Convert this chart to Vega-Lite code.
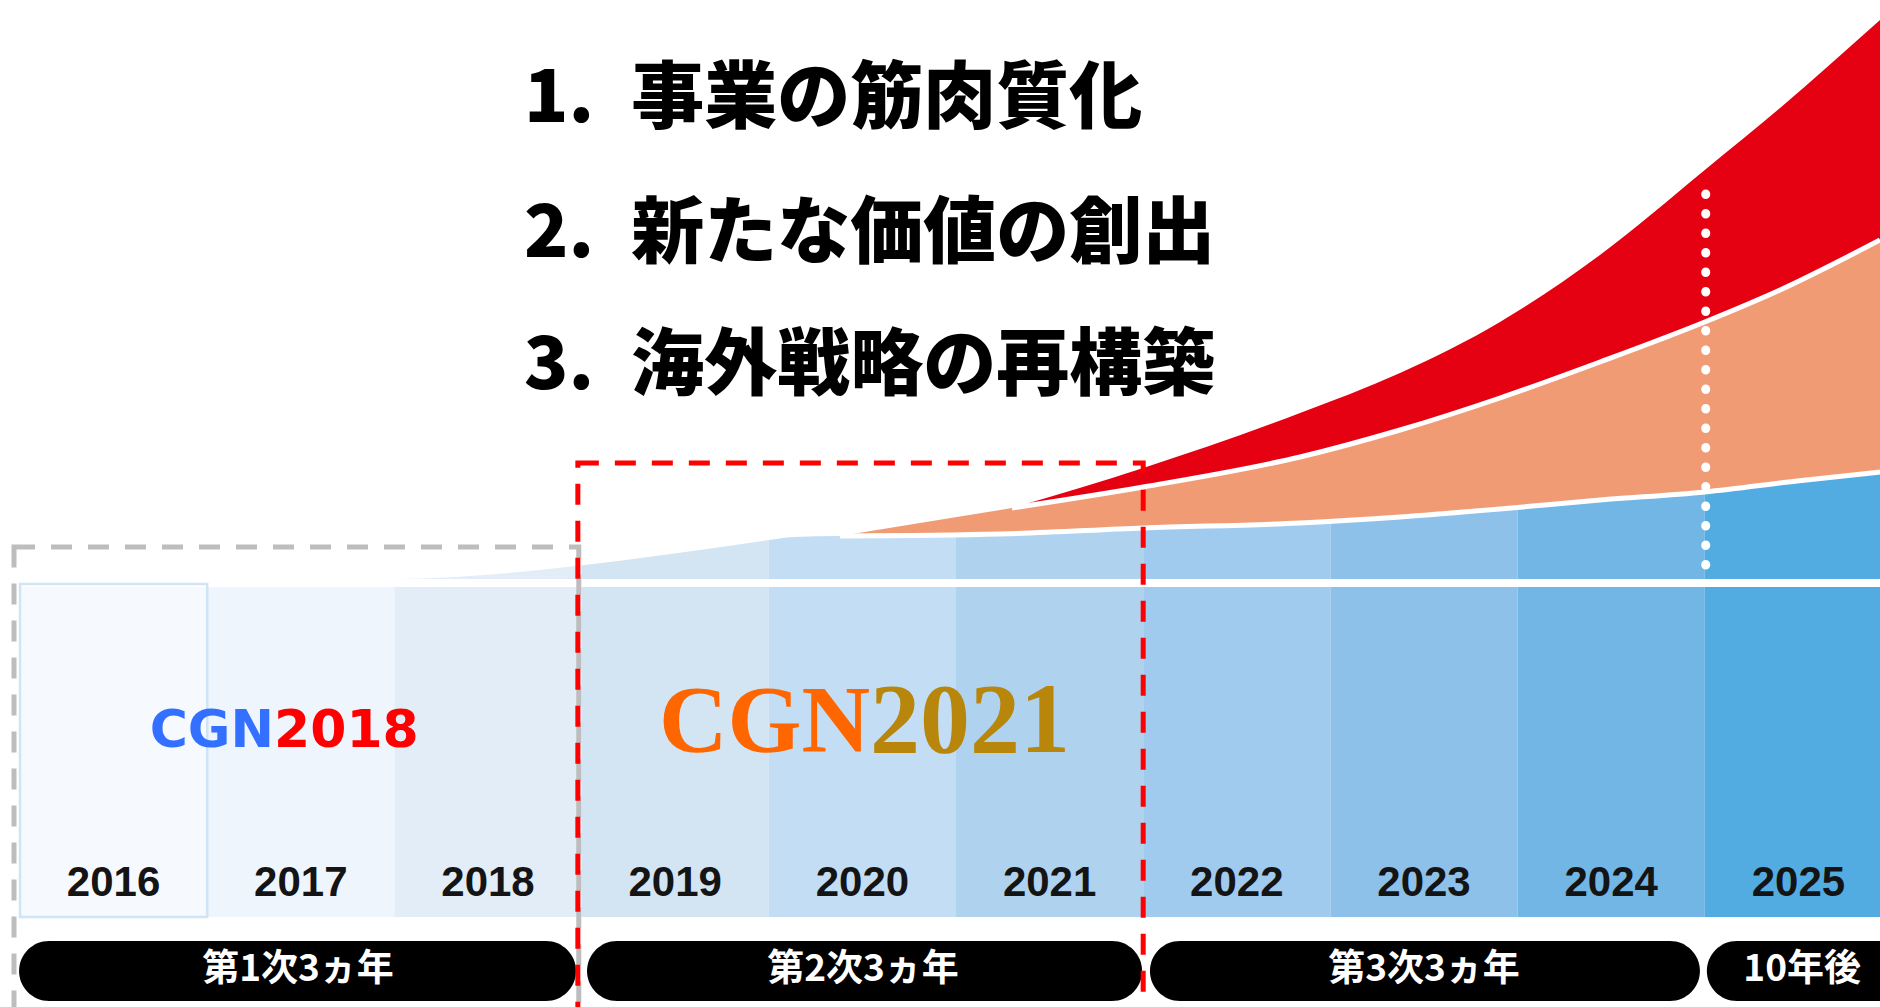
{
  "$schema": "https://vega.github.io/schema/vega-lite/v6.json",
  "width": 1880,
  "height": 1007,
  "autosize": {"type": "fit", "contains": "padding"},
  "padding": 0,
  "background": "white",
  "config": {"view": {"stroke": null}, "axis": {"disable": true}, "legend": {"disable": true}},
  "datasets": {
    "years": [
      {"year": "2016", "start": 2016, "end": 2017, "mid": 2016.5},
      {"year": "2017", "start": 2017, "end": 2018, "mid": 2017.5},
      {"year": "2018", "start": 2018, "end": 2019, "mid": 2018.5},
      {"year": "2019", "start": 2019, "end": 2020, "mid": 2019.5},
      {"year": "2020", "start": 2020, "end": 2021, "mid": 2020.5},
      {"year": "2021", "start": 2021, "end": 2022, "mid": 2021.5},
      {"year": "2022", "start": 2022, "end": 2023, "mid": 2022.5},
      {"year": "2023", "start": 2023, "end": 2024, "mid": 2023.5},
      {"year": "2024", "start": 2024, "end": 2025, "mid": 2024.5},
      {"year": "2025", "start": 2025, "end": 2026, "mid": 2025.5}
    ],
    "blue": [
      {"x": 2015.8932, "top": 426},
      {"x": 2018.0, "top": 428},
      {"x": 2019.632, "top": 457},
      {"x": 2020.0, "top": 467},
      {"x": 2020.129, "top": 470},
      {"x": 2020.38, "top": 471},
      {"x": 2021.235, "top": 473},
      {"x": 2022.0, "top": 479},
      {"x": 2022.838, "top": 484},
      {"x": 2023.639, "top": 494},
      {"x": 2024.44, "top": 507},
      {"x": 2025.0, "top": 515},
      {"x": 2025.936, "top": 535}
    ],
    "orange": [
      {"x": 2020.38, "lo": 471, "hi": 471},
      {"x": 2021.235, "lo": 473, "hi": 497},
      {"x": 2022.0, "lo": 479, "hi": 520},
      {"x": 2022.838, "lo": 484, "hi": 550},
      {"x": 2023.372, "lo": 490, "hi": 577},
      {"x": 2023.906, "lo": 498, "hi": 609},
      {"x": 2024.44, "lo": 507, "hi": 645},
      {"x": 2025.0, "lo": 515, "hi": 685},
      {"x": 2025.493, "lo": 526, "hi": 724},
      {"x": 2025.936, "lo": 535, "hi": 767}
    ],
    "red": [
      {"x": 2021.299, "lo": 499, "hi": 499},
      {"x": 2022.0, "lo": 520, "hi": 539},
      {"x": 2022.838, "lo": 550, "hi": 594},
      {"x": 2023.372, "lo": 577, "hi": 634},
      {"x": 2023.906, "lo": 609, "hi": 685},
      {"x": 2024.44, "lo": 645, "hi": 752},
      {"x": 2025.0, "lo": 685, "hi": 837},
      {"x": 2025.402, "lo": 717, "hi": 899},
      {"x": 2025.936, "lo": 767, "hi": 987}
    ],
    "phases": [
      {"phase": "第1次3ヵ年", "start": 2015.995, "end": 2018.97, "mid": 2017.485},
      {"phase": "第2次3ヵ年", "start": 2019.029, "end": 2021.994, "mid": 2020.503},
      {"phase": "第3次3ヵ年", "start": 2022.036, "end": 2024.974, "mid": 2023.5},
      {"phase": "10年後", "start": 2025.011, "end": 2026.4, "mid": 2025.52}
    ],
    "goals": [
      {"no": "1.", "goal": "事業の筋肉質化"},
      {"no": "2.", "goal": "新たな価値の創出"},
      {"no": "3.", "goal": "海外戦略の再構築"}
    ],
    "plans": [
      {"plan": "CGN2018", "brand": "CGN", "yr": "2018"},
      {"plan": "CGN2021", "brand": "CGN", "yr": "2021"}
    ]
  },
  "layer": [
    {
      "data": {"name": "years"},
      "mark": {"type": "rect", "clip": true, "stroke": null},
      "encoding": {
        "x": {"field": "start", "type": "quantitative", "scale": {"domain": [2015.8932, 2025.9359], "nice": false, "zero": false}},
        "x2": {"field": "end"},
        "y": {"datum": 90, "type": "quantitative", "scale": {"domain": [0, 1007], "nice": false, "zero": false}},
        "y2": {"datum": 1007},
        "color": {"field": "year", "type": "nominal", "legend": null,
          "scale": {"domain": ["2016","2017","2018","2019","2020","2021","2022","2023","2024","2025"],
                    "range": ["#f6fafe","#eef5fc","#e2edf8","#d3e4f3","#c3def4","#afd2ef","#a0cbee","#8ec1e9","#72b6e5","#53ace1"]}}
      }
    },
    {
      "data": {"name": "blue"},
      "mark": {"type": "area", "color": "white", "interpolate": "monotone", "clip": true},
      "encoding": {
        "x": {"field": "x", "type": "quantitative", "scale": {"domain": [2015.8932, 2025.9359], "nice": false, "zero": false}},
        "y": {"field": "top", "type": "quantitative", "scale": {"domain": [0, 1007], "nice": false, "zero": false}},
        "y2": {"datum": 1010}
      }
    },
    {
      "data": {"name": "years"},
      "transform": [{"filter": "datum.year == '2016'"}],
      "mark": {"type": "rect", "color": "white", "clip": true},
      "encoding": {
        "x": {"datum": 2016, "type": "quantitative", "scale": {"domain": [2015.8932, 2025.9359], "nice": false, "zero": false}},
        "x2": {"datum": 2026.5},
        "y": {"datum": 420, "type": "quantitative", "scale": {"domain": [0, 1007], "nice": false, "zero": false}},
        "y2": {"datum": 428}
      }
    },
    {
      "data": {"name": "orange"},
      "mark": {"type": "area", "color": "#f19b75", "interpolate": "monotone", "clip": true},
      "encoding": {
        "x": {"field": "x", "type": "quantitative", "scale": {"domain": [2015.8932, 2025.9359], "nice": false, "zero": false}},
        "y": {"field": "hi", "type": "quantitative", "scale": {"domain": [0, 1007], "nice": false, "zero": false}},
        "y2": {"field": "lo"}
      }
    },
    {
      "data": {"name": "red"},
      "mark": {"type": "area", "color": "#e50012", "interpolate": "monotone", "clip": true},
      "encoding": {
        "x": {"field": "x", "type": "quantitative", "scale": {"domain": [2015.8932, 2025.9359], "nice": false, "zero": false}},
        "y": {"field": "hi", "type": "quantitative", "scale": {"domain": [0, 1007], "nice": false, "zero": false}},
        "y2": {"field": "lo"}
      }
    },
    {
      "data": {"name": "orange"},
      "mark": {"type": "line", "color": "white", "strokeWidth": 5, "interpolate": "monotone", "clip": true},
      "encoding": {
        "x": {"field": "x", "type": "quantitative", "scale": {"domain": [2015.8932, 2025.9359], "nice": false, "zero": false}},
        "y": {"field": "lo", "type": "quantitative", "scale": {"domain": [0, 1007], "nice": false, "zero": false}}
      }
    },
    {
      "data": {"name": "red"},
      "mark": {"type": "line", "color": "white", "strokeWidth": 5, "interpolate": "monotone", "clip": true},
      "encoding": {
        "x": {"field": "x", "type": "quantitative", "scale": {"domain": [2015.8932, 2025.9359], "nice": false, "zero": false}},
        "y": {"field": "lo", "type": "quantitative", "scale": {"domain": [0, 1007], "nice": false, "zero": false}}
      }
    },
    {
      "data": {"name": "years"},
      "transform": [{"filter": "datum.year == '2016'"}],
      "mark": {"type": "rect", "fillOpacity": 0, "stroke": "#cfe4f4", "strokeWidth": 2.5, "clip": true},
      "encoding": {
        "x": {"field": "start", "type": "quantitative", "scale": {"domain": [2015.8932, 2025.9359], "nice": false, "zero": false}},
        "x2": {"field": "end"},
        "y": {"datum": 90, "type": "quantitative", "scale": {"domain": [0, 1007], "nice": false, "zero": false}},
        "y2": {"datum": 423}
      }
    },
    {
      "data": {"name": "years"},
      "mark": {"type": "text", "font": "Liberation Sans", "fontWeight": "bold", "fontSize": 42, "color": "#141414", "align": "center", "baseline": "alphabetic"},
      "encoding": {
        "x": {"field": "mid", "type": "quantitative", "scale": {"domain": [2015.8932, 2025.9359], "nice": false, "zero": false}},
        "y": {"datum": 111, "type": "quantitative", "scale": {"domain": [0, 1007], "nice": false, "zero": false}},
        "text": {"field": "year"}
      }
    },
    {
      "data": {"name": "phases"},
      "mark": {"type": "rect", "color": "#000000", "cornerRadius": 30, "clip": true},
      "encoding": {
        "x": {"field": "start", "type": "quantitative", "scale": {"domain": [2015.8932, 2025.9359], "nice": false, "zero": false}},
        "x2": {"field": "end"},
        "y": {"datum": 6, "type": "quantitative", "scale": {"domain": [0, 1007], "nice": false, "zero": false}},
        "y2": {"datum": 66}
      }
    },
    {
      "data": {"name": "phases"},
      "mark": {"type": "text", "font": "Noto Sans CJK JP", "fontWeight": "bold", "fontSize": 37, "color": "white", "align": "center", "baseline": "middle"},
      "encoding": {
        "x": {"field": "mid", "type": "quantitative", "scale": {"domain": [2015.8932, 2025.9359], "nice": false, "zero": false}},
        "y": {"datum": 37, "type": "quantitative", "scale": {"domain": [0, 1007], "nice": false, "zero": false}},
        "text": {"field": "phase"}
      }
    },
    {
      "data": {"name": "plans"},
      "transform": [{"filter": "datum.plan == 'CGN2018'"}],
      "mark": {"type": "rect", "fillOpacity": 0, "stroke": "#bdbdbd", "strokeWidth": 5, "strokeDash": [21, 16], "clip": true},
      "encoding": {
        "x": {"datum": 2015.968, "type": "quantitative", "scale": {"domain": [2015.8932, 2025.9359], "nice": false, "zero": false}},
        "x2": {"datum": 2018.985},
        "y": {"datum": -40, "type": "quantitative", "scale": {"domain": [0, 1007], "nice": false, "zero": false}},
        "y2": {"datum": 460}
      }
    },
    {
      "data": {"name": "plans"},
      "transform": [{"filter": "datum.plan == 'CGN2021'"}],
      "mark": {"type": "rect", "fillOpacity": 0, "stroke": "#ff0000", "strokeWidth": 5, "strokeDash": [21, 16], "clip": true},
      "encoding": {
        "x": {"datum": 2018.98, "type": "quantitative", "scale": {"domain": [2015.8932, 2025.9359], "nice": false, "zero": false}},
        "x2": {"datum": 2022.0},
        "y": {"datum": -40, "type": "quantitative", "scale": {"domain": [0, 1007], "nice": false, "zero": false}},
        "y2": {"datum": 544}
      }
    },
    {
      "data": {"name": "phases"},
      "transform": [{"filter": "datum.phase == '10年後'"}],
      "mark": {"type": "rule", "color": "white", "strokeWidth": 9, "strokeDash": [0.5, 19], "strokeCap": "round", "clip": true},
      "encoding": {
        "x": {"datum": 2025.005, "type": "quantitative", "scale": {"domain": [2015.8932, 2025.9359], "nice": false, "zero": false}},
        "y": {"datum": 442, "type": "quantitative", "scale": {"domain": [0, 1007], "nice": false, "zero": false}},
        "y2": {"datum": 830}
      }
    },
    {
      "data": {"name": "plans"},
      "transform": [{"filter": "datum.plan == 'CGN2018'"}],
      "mark": {"type": "text", "font": "DejaVu Sans", "fontWeight": "bold", "fontSize": 52, "color": "#3370ff", "align": "right", "baseline": "alphabetic"},
      "encoding": {
        "x": {"datum": 2017.357, "type": "quantitative", "scale": {"domain": [2015.8932, 2025.9359], "nice": false, "zero": false}},
        "y": {"datum": 260, "type": "quantitative", "scale": {"domain": [0, 1007], "nice": false, "zero": false}},
        "text": {"field": "brand"}
      }
    },
    {
      "data": {"name": "plans"},
      "transform": [{"filter": "datum.plan == 'CGN2018'"}],
      "mark": {"type": "text", "font": "DejaVu Sans", "fontWeight": "bold", "fontSize": 52, "color": "#ff0000", "align": "left", "baseline": "alphabetic"},
      "encoding": {
        "x": {"datum": 2017.357, "type": "quantitative", "scale": {"domain": [2015.8932, 2025.9359], "nice": false, "zero": false}},
        "y": {"datum": 260, "type": "quantitative", "scale": {"domain": [0, 1007], "nice": false, "zero": false}},
        "text": {"field": "yr"}
      }
    },
    {
      "data": {"name": "plans"},
      "transform": [{"filter": "datum.plan == 'CGN2021'"}],
      "mark": {"type": "text", "font": "Liberation Serif", "fontWeight": "bold", "fontSize": 95, "color": "#ff6600", "align": "right", "baseline": "alphabetic"},
      "encoding": {
        "x": {"datum": 2020.541, "type": "quantitative", "scale": {"domain": [2015.8932, 2025.9359], "nice": false, "zero": false}},
        "y": {"datum": 255, "type": "quantitative", "scale": {"domain": [0, 1007], "nice": false, "zero": false}},
        "text": {"field": "brand"}
      }
    },
    {
      "data": {"name": "plans"},
      "transform": [{"filter": "datum.plan == 'CGN2021'"}],
      "mark": {"type": "text", "font": "Liberation Serif", "fontWeight": "bold", "fontSize": 100, "color": "#b8860b", "align": "left", "baseline": "alphabetic"},
      "encoding": {
        "x": {"datum": 2020.541, "type": "quantitative", "scale": {"domain": [2015.8932, 2025.9359], "nice": false, "zero": false}},
        "y": {"datum": 255, "type": "quantitative", "scale": {"domain": [0, 1007], "nice": false, "zero": false}},
        "text": {"field": "yr"}
      }
    },
    {
      "data": {"name": "goals"},
      "transform": [{"filter": "datum.no == '1.'"}],
      "encoding": {
        "y": {"datum": 907, "type": "quantitative", "scale": {"domain": [0, 1007], "nice": false, "zero": false}}
      },
      "layer": [
        {
          "mark": {"type": "text", "font": "Noto Sans CJK JP", "fontWeight": 900, "fontSize": 73, "color": "#000000", "align": "left", "baseline": "middle"},
          "encoding": {"x": {"datum": 2018.693, "type": "quantitative", "scale": {"domain": [2015.8932, 2025.9359], "nice": false, "zero": false}}, "text": {"field": "no"}}
        },
        {
          "mark": {"type": "text", "font": "Noto Sans CJK JP", "fontWeight": 900, "fontSize": 73, "color": "#000000", "align": "left", "baseline": "middle"},
          "encoding": {"x": {"datum": 2019.265, "type": "quantitative", "scale": {"domain": [2015.8932, 2025.9359], "nice": false, "zero": false}}, "text": {"field": "goal"}}
        }
      ]
    },
    {
      "data": {"name": "goals"},
      "transform": [{"filter": "datum.no == '2.'"}],
      "encoding": {
        "y": {"datum": 772, "type": "quantitative", "scale": {"domain": [0, 1007], "nice": false, "zero": false}}
      },
      "layer": [
        {
          "mark": {"type": "text", "font": "Noto Sans CJK JP", "fontWeight": 900, "fontSize": 73, "color": "#000000", "align": "left", "baseline": "middle"},
          "encoding": {"x": {"datum": 2018.693, "type": "quantitative", "scale": {"domain": [2015.8932, 2025.9359], "nice": false, "zero": false}}, "text": {"field": "no"}}
        },
        {
          "mark": {"type": "text", "font": "Noto Sans CJK JP", "fontWeight": 900, "fontSize": 73, "color": "#000000", "align": "left", "baseline": "middle"},
          "encoding": {"x": {"datum": 2019.265, "type": "quantitative", "scale": {"domain": [2015.8932, 2025.9359], "nice": false, "zero": false}}, "text": {"field": "goal"}}
        }
      ]
    },
    {
      "data": {"name": "goals"},
      "transform": [{"filter": "datum.no == '3.'"}],
      "encoding": {
        "y": {"datum": 640, "type": "quantitative", "scale": {"domain": [0, 1007], "nice": false, "zero": false}}
      },
      "layer": [
        {
          "mark": {"type": "text", "font": "Noto Sans CJK JP", "fontWeight": 900, "fontSize": 73, "color": "#000000", "align": "left", "baseline": "middle"},
          "encoding": {"x": {"datum": 2018.693, "type": "quantitative", "scale": {"domain": [2015.8932, 2025.9359], "nice": false, "zero": false}}, "text": {"field": "no"}}
        },
        {
          "mark": {"type": "text", "font": "Noto Sans CJK JP", "fontWeight": 900, "fontSize": 73, "color": "#000000", "align": "left", "baseline": "middle"},
          "encoding": {"x": {"datum": 2019.265, "type": "quantitative", "scale": {"domain": [2015.8932, 2025.9359], "nice": false, "zero": false}}, "text": {"field": "goal"}}
        }
      ]
    }
  ]
}
